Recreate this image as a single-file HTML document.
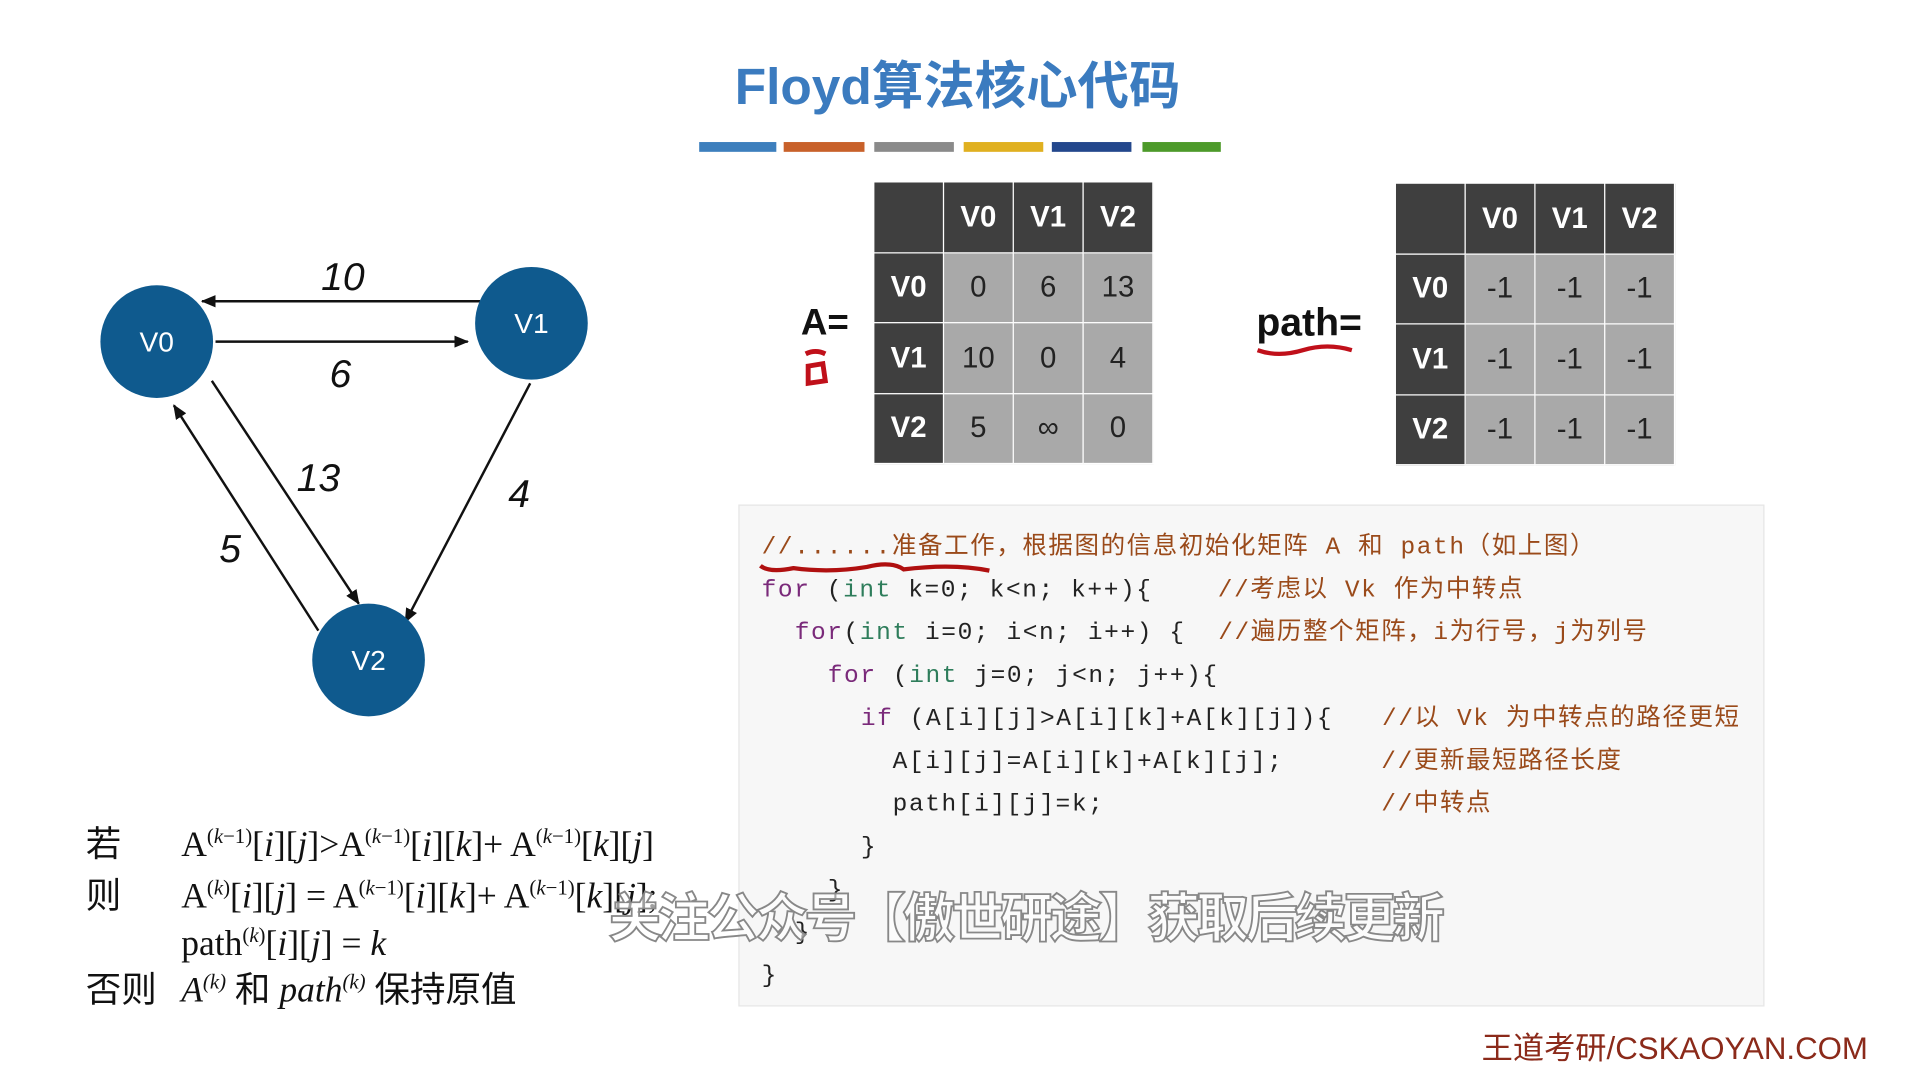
<!DOCTYPE html>
<html><head><meta charset="utf-8"><style>
html,body{margin:0;padding:0;background:#fff;overflow:hidden}
#w{position:absolute;left:0;top:0;width:1568px;height:882px;transform:scale(1.22449);transform-origin:0 0;background:#fff;font-family:"Liberation Sans","Noto Sans CJK SC",sans-serif}
.a{position:absolute;white-space:nowrap}
table{position:absolute;border-collapse:collapse}
td{border:1.5px solid #fff;text-align:center;font-size:24px;padding:0}
td.h{background:#3f3f3f;color:#fff;font-weight:bold}
td.b{background:#a9a9a9;color:#222}
.code{position:absolute;left:603px;top:412px;width:836px;height:408px;background:#f7f7f7;border:1px solid #e6e6e6}
.ln{position:absolute;font-family:"Liberation Mono","Noto Sans CJK SC",monospace;font-size:20px;letter-spacing:1.3px;line-height:24px;color:#222;white-space:pre}
.k{color:#7a2a7a}.t{color:#2e7d5b}.c{color:#9a4a1a}
.f{position:absolute;font-family:"Liberation Serif","Noto Serif CJK SC",serif;font-size:29px;line-height:32px;color:#111;white-space:nowrap}
.f sup{font-size:17px;line-height:0}
.cj{font-family:"Liberation Sans","Noto Sans CJK SC",sans-serif}
</style></head><body><div id="w">
<div class="a" style="left:600px;top:46px;font-size:42px;font-weight:bold;color:#3b7bbf;line-height:50px">Floyd算法核心代码</div>
<div class="a" style="left:571px;top:116px;width:63px;height:8px;background:#3d7fbd"></div>
<div class="a" style="left:640px;top:116px;width:66px;height:8px;background:#c8612a"></div>
<div class="a" style="left:714px;top:116px;width:65px;height:8px;background:#8a8a8a"></div>
<div class="a" style="left:787px;top:116px;width:65px;height:8px;background:#e0b020"></div>
<div class="a" style="left:859px;top:116px;width:65px;height:8px;background:#23478c"></div>
<div class="a" style="left:933px;top:116px;width:64px;height:8px;background:#4d9a2a"></div>

<svg class="a" style="left:0;top:0" width="600" height="640">
<defs><marker id="m" markerWidth="12" markerHeight="10" refX="11" refY="5" orient="auto" markerUnits="userSpaceOnUse"><path d="M0,0 L12,5 L0,10 z" fill="#111"/></marker></defs>
<g stroke="#111" stroke-width="2" marker-end="url(#m)">
<line x1="392" y1="246" x2="165" y2="246"/>
<line x1="176" y1="279" x2="382" y2="279"/>
<line x1="173" y1="311" x2="293" y2="493"/>
<line x1="260" y1="515" x2="142" y2="331"/>
<line x1="433" y1="313" x2="331" y2="508"/>
</g>
<circle cx="128" cy="279" r="46" fill="#0f5a8e"/>
<circle cx="434" cy="264" r="46" fill="#0f5a8e"/>
<circle cx="301" cy="539" r="46" fill="#0f5a8e"/>
<g font-family="Liberation Sans" font-size="23" fill="#fff" text-anchor="middle">
<text x="128" y="287">V0</text><text x="434" y="272">V1</text><text x="301" y="547">V2</text></g>
<g font-family="Liberation Sans" font-size="32" font-style="italic" fill="#111" text-anchor="middle">
<text x="280" y="237">10</text><text x="278" y="316">6</text><text x="260" y="401">13</text><text x="188" y="459">5</text><text x="424" y="414">4</text></g>
</svg>

<div class="a" style="left:654px;top:247px;font-size:30px;font-weight:bold;color:#111">A=</div>
<svg class="a" style="left:650px;top:283px" width="40" height="40"><path d="M8,6 Q16,2 24,6 M10,16 L22,14 L24,28 L10,30 Z" stroke="#c0101a" stroke-width="4" fill="none"/></svg>
<table style="left:713px;top:148px"><tr style="height:58px"><td class="h" style="width:56px"></td><td class="h" style="width:56px">V0</td><td class="h" style="width:56px">V1</td><td class="h" style="width:56px">V2</td></tr>
<tr style="height:57px"><td class="h">V0</td><td class="b">0</td><td class="b">6</td><td class="b">13</td></tr>
<tr style="height:58px"><td class="h">V1</td><td class="b">10</td><td class="b">0</td><td class="b">4</td></tr>
<tr style="height:57px"><td class="h">V2</td><td class="b">5</td><td class="b">∞</td><td class="b">0</td></tr></table>

<div class="a" style="left:1026px;top:245px;font-size:32px;font-weight:bold;color:#111">path=</div>
<svg class="a" style="left:1024px;top:278px" width="84" height="16"><path d="M3,8 Q20,14 40,8 T80,8" stroke="#c0101a" stroke-width="3.5" fill="none"/></svg>
<table style="left:1139px;top:149px"><tr style="height:58px"><td class="h" style="width:56px"></td><td class="h" style="width:56px">V0</td><td class="h" style="width:56px">V1</td><td class="h" style="width:56px">V2</td></tr>
<tr style="height:57px"><td class="h">V0</td><td class="b">-1</td><td class="b">-1</td><td class="b">-1</td></tr>
<tr style="height:58px"><td class="h">V1</td><td class="b">-1</td><td class="b">-1</td><td class="b">-1</td></tr>
<tr style="height:57px"><td class="h">V2</td><td class="b">-1</td><td class="b">-1</td><td class="b">-1</td></tr></table>

<div class="code"></div>
<div class="ln c" style="left:622px;top:436px">//......准备工作，根据图的信息初始化矩阵 A 和 path（如上图）</div>
<svg class="a" style="left:618px;top:456px" width="200" height="16"><path d="M3,6 Q10,12 30,8 Q60,12 90,7 Q110,2 120,9 Q160,4 190,10" stroke="#b01010" stroke-width="3.5" fill="none"/></svg>
<div class="ln" style="left:622px;top:471px"><span class="k">for</span> (<span class="t">int</span> k=0; k&lt;n; k++){    <span class="c">//考虑以 Vk 作为中转点</span></div>
<div class="ln" style="left:649px;top:506px"><span class="k">for</span>(<span class="t">int</span> i=0; i&lt;n; i++) {  <span class="c">//遍历整个矩阵，i为行号，j为列号</span></div>
<div class="ln" style="left:676px;top:541px"><span class="k">for</span> (<span class="t">int</span> j=0; j&lt;n; j++){</div>
<div class="ln" style="left:703px;top:576px"><span class="k">if</span> (A[i][j]&gt;A[i][k]+A[k][j]){   <span class="c">//以 Vk 为中转点的路径更短</span></div>
<div class="ln" style="left:729px;top:611px">A[i][j]=A[i][k]+A[k][j];      <span class="c">//更新最短路径长度</span></div>
<div class="ln" style="left:729px;top:646px">path[i][j]=k;                 <span class="c">//中转点</span></div>
<div class="ln" style="left:703px;top:681px">}</div>
<div class="ln" style="left:676px;top:716px">}</div>
<div class="ln" style="left:649px;top:751px">}</div>
<div class="ln" style="left:622px;top:786px">}</div>

<div class="f cj" style="left:70px;top:674px">若</div>
<div class="f" style="left:148px;top:674px">A<sup>(<i>k</i>−1)</sup>[<i>i</i>][<i>j</i>]&gt;A<sup>(<i>k</i>−1)</sup>[<i>i</i>][<i>k</i>]+ A<sup>(<i>k</i>−1)</sup>[<i>k</i>][<i>j</i>]</div>
<div class="f cj" style="left:70px;top:716px">则</div>
<div class="f" style="left:148px;top:716px">A<sup>(<i>k</i>)</sup>[<i>i</i>][<i>j</i>] = A<sup>(<i>k</i>−1)</sup>[<i>i</i>][<i>k</i>]+ A<sup>(<i>k</i>−1)</sup>[<i>k</i>][<i>j</i>];</div>
<div class="f" style="left:148px;top:755px">path<sup>(<i>k</i>)</sup>[<i>i</i>][<i>j</i>] = <i>k</i></div>
<div class="f cj" style="left:70px;top:793px">否则</div>
<div class="f" style="left:148px;top:793px"><i>A<sup>(k)</sup></i> <span class="cj">和</span> <i>path<sup>(k)</sup></i> <span class="cj">保持原值</span></div>

<div class="a" style="left:497px;top:716px;font-size:43px;font-weight:bold;color:rgba(255,255,255,0.6);-webkit-text-stroke:1.5px #888;letter-spacing:-3px">关注公众号【傲世研途】获取后续更新</div>
<div class="a" style="left:1210px;top:836px;font-size:25.5px;color:#8b2a1a">王道考研/CSKAOYAN.COM</div>
</div></body></html>
